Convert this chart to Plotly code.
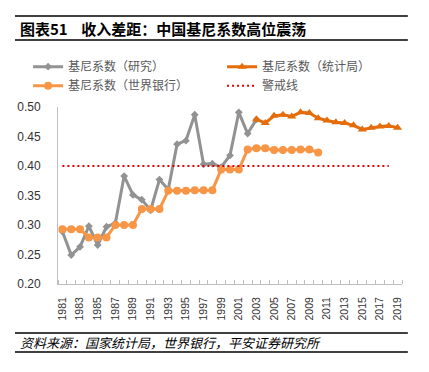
import plotly.graph_objects as go

years_research = list(range(1981, 2004))
gini_research = [0.289, 0.249, 0.263, 0.298, 0.266, 0.297, 0.303, 0.383, 0.351, 0.343,
                 0.325, 0.377, 0.360, 0.437, 0.443, 0.487, 0.403, 0.404, 0.398, 0.418,
                 0.491, 0.455, 0.479]

years_nbs = list(range(2003, 2020))
gini_nbs = [0.479, 0.473, 0.485, 0.487, 0.484, 0.491, 0.490, 0.481, 0.477, 0.474,
            0.473, 0.469, 0.462, 0.465, 0.467, 0.468, 0.465]

years_wb = list(range(1981, 2011))
gini_wb = [0.293, 0.293, 0.293, 0.279, 0.279, 0.279, 0.300, 0.300, 0.300, 0.327,
           0.327, 0.327, 0.358, 0.358, 0.358, 0.359, 0.359, 0.359, 0.394, 0.394,
           0.394, 0.428, 0.430, 0.430, 0.427, 0.427, 0.427, 0.428, 0.428, 0.423]

years_warn = list(range(1981, 2019))
warn_line = [0.40] * len(years_warn)

xtick_vals = list(range(1981, 2020, 2))
xtick_text = [str(y) for y in xtick_vals]
ytick_vals = [0.20, 0.25, 0.30, 0.35, 0.40, 0.45, 0.50]
ytick_text = ["0.20", "0.25", "0.30", "0.35", "0.40", "0.45", "0.50"]

names = ["基尼系数（研究）", "基尼系数（统计局）", "基尼系数（世界银行）", "警戒线"]

C_GRAY = "#929292"
C_NBS = "#E46C0A"
C_WB = "#F79646"
C_RED = "#E00000"

fig = go.Figure()
fig.add_trace(go.Scatter(x=years_research, y=gini_research, name=names[0], mode="lines+markers",
                         line=dict(color=C_GRAY, width=3),
                         marker=dict(symbol="diamond", size=6, color=C_GRAY)))
fig.add_trace(go.Scatter(x=years_nbs, y=gini_nbs, name=names[1], mode="lines+markers",
                         line=dict(color=C_NBS, width=3),
                         marker=dict(symbol="triangle-up", size=8, color=C_NBS)))
fig.add_trace(go.Scatter(x=years_wb, y=gini_wb, name=names[2], mode="lines+markers",
                         line=dict(color=C_WB, width=3),
                         marker=dict(symbol="circle", size=8, color=C_WB)))
fig.add_trace(go.Scatter(x=years_warn, y=warn_line, name=names[3], mode="lines",
                         line=dict(color=C_RED, width=2, dash="2px,3px")))

FONT = "Noto Sans CJK SC, Liberation Sans, sans-serif"

# page body adds an 8px offset; compensate in the margins
fig.update_layout(
    width=429, height=372,
    margin=dict(l=50, r=35, t=99, b=96, autoexpand=False),
    paper_bgcolor="white", plot_bgcolor="white",
    font=dict(family=FONT, color="#333333", size=12),
    showlegend=True,
    legend=dict(orientation="h", x=-0.087, y=1.31, xanchor="left", yanchor="top",
                entrywidth=149, entrywidthmode="pixels",
                font=dict(size=12, color="#595959", family=FONT),
                bgcolor="rgba(0,0,0,0)", itemclick=False, tracegroupgap=0),
    xaxis=dict(range=[1980.5, 2019.5], tickmode="array", tickvals=xtick_vals, ticktext=xtick_text,
               tickangle=-90, ticks="", showgrid=False, zeroline=False,
               showline=True, linecolor="#BFBFBF", linewidth=1,
               tickfont=dict(family="Liberation Sans, Arial, sans-serif", size=10.5, color="#333333"),
               ticklabelstandoff=8,
               minor=dict(ticks="inside", tick0=1980.5, dtick=1, ticklen=4, tickcolor="#BFBFBF",
                          showgrid=False)),
    yaxis=dict(range=[0.20, 0.50], tickmode="array", tickvals=ytick_vals, ticktext=ytick_text,
               ticks="", showgrid=False, zeroline=False,
               showline=True, linecolor="#BFBFBF", linewidth=1,
               tickfont=dict(family="Liberation Sans, Arial, sans-serif", size=12, color="#333333"),
               ticklabelstandoff=14),
)

# Title block and footer
fig.add_shape(type="line", xref="paper", yref="paper", x0=-0.125, x1=1.017,
              y0=1 + (107 - 16) / 177, y1=1 + (107 - 16) / 177, line=dict(color="#000000", width=1.5))
fig.add_shape(type="line", xref="paper", yref="paper", x0=-0.125, x1=1.017,
              y0=1 + (107 - 40) / 177, y1=1 + (107 - 40) / 177, line=dict(color="#000000", width=1.5))
fig.add_annotation(xref="paper", yref="paper", x=-0.116, y=1 + (107 - 28) / 177,
                   xanchor="left", yanchor="middle", showarrow=False,
                   text="<b>图表51&nbsp;&nbsp;&nbsp;&nbsp;收入差距：中国基尼系数高位震荡</b>",
                   font=dict(family=FONT, size=15, color="#000000"))
fig.add_shape(type="line", xref="paper", yref="paper", x0=-0.125, x1=1.017,
              y0=-(333 - 284) / 177, y1=-(333 - 284) / 177, line=dict(color="#000000", width=1.5))
fig.add_shape(type="line", xref="paper", yref="paper", x0=-0.125, x1=1.017,
              y0=-(352 - 284) / 177, y1=-(352 - 284) / 177, line=dict(color="#000000", width=1.5))
fig.add_annotation(xref="paper", yref="paper", x=-0.116, y=-(342.5 - 284) / 177,
                   xanchor="left", yanchor="middle", showarrow=False,
                   text="<i>资料来源：国家统计局，世界银行，平安证券研究所</i>",
                   font=dict(family=FONT, size=13, color="#000000"))

fig.write_html("out.html")
